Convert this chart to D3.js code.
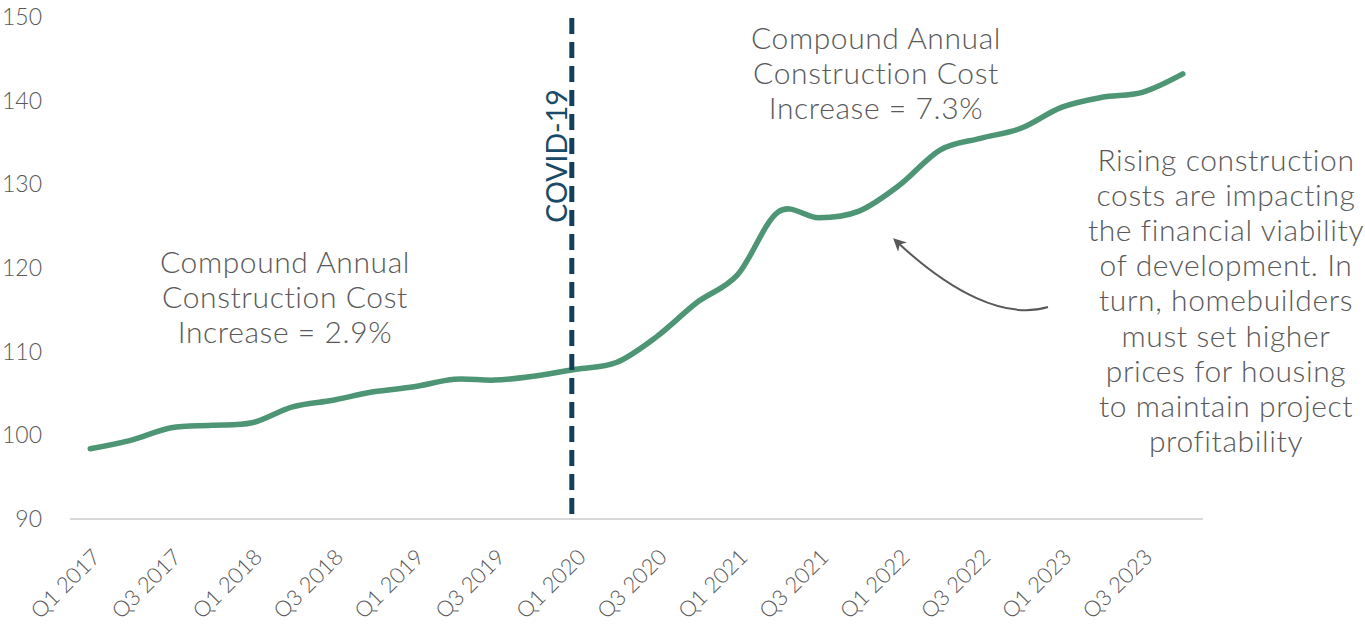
<!DOCTYPE html>
<html>
<head>
<meta charset="utf-8">
<script src="https://cdn.jsdelivr.net/npm/d3@7"></script>
<style>
  html, body { margin: 0; padding: 0; background: #ffffff; }
  svg { display: block; }
  text { font-family: Lato, "Open Sans", sans-serif; }
</style>
</head>
<body>
<script>
const quarters = [
  "Q1 2017","Q2 2017","Q3 2017","Q4 2017",
  "Q1 2018","Q2 2018","Q3 2018","Q4 2018",
  "Q1 2019","Q2 2019","Q3 2019","Q4 2019",
  "Q1 2020","Q2 2020","Q3 2020","Q4 2020",
  "Q1 2021","Q2 2021","Q3 2021","Q4 2021",
  "Q1 2022","Q2 2022","Q3 2022","Q4 2022",
  "Q1 2023","Q2 2023","Q3 2023","Q4 2023"
];
const costIndex = [
  98.4, 99.4, 100.9, 101.2,
  101.5, 103.4, 104.2, 105.2,
  105.8, 106.7, 106.6, 107.1,
  107.9, 108.7, 111.8, 115.9,
  119.2, 126.7, 126.0, 126.8,
  129.9, 134.1, 135.5, 136.7,
  139.2, 140.4, 141.0, 143.2
];
const yTicks = [90, 100, 110, 120, 130, 140, 150];
const xTickLabels = quarters.filter((q, i) => i % 2 === 0);
const covidQuarter = "Q1 2020";
const preCovidNote = ["Compound Annual", "Construction Cost", "Increase = 2.9%"];
const postCovidNote = ["Compound Annual", "Construction Cost", "Increase = 7.3%"];
const sideNote = [
  "Rising construction", "costs are impacting", "the financial viability",
  "of development. In", "turn, homebuilders", "must set higher",
  "prices for housing", "to maintain project", "profitability"
];

const W = 1365, H = 624;
const svg = d3.select("body").append("svg").attr("width", W).attr("height", H);

const x = d3.scalePoint().domain(quarters).range([70, 1203]).padding(0.5);
const y = d3.scaleLinear().domain([90, 150]).range([519, 17]);

const textGrey = "#595959";

// baseline
svg.append("line")
  .attr("x1", 70).attr("x2", 1203)
  .attr("y1", y(90)).attr("y2", y(90))
  .attr("stroke", "#d9d9d9").attr("stroke-width", 2);

// y tick labels
svg.append("g").selectAll("text").data(yTicks).join("text")
  .attr("x", 42).attr("y", d => y(d)).attr("dy", "0.35em")
  .attr("text-anchor", "end")
  .attr("font-size", 23).attr("font-weight", 300)
  .attr("fill", textGrey)
  .text(d => d);

// x tick labels
svg.append("g").selectAll("text").data(xTickLabels).join("text")
  .attr("transform", d => `translate(${x(d) + 6},${553}) rotate(-45)`)
  .attr("dy", "0.35em")
  .attr("text-anchor", "end")
  .attr("font-size", 22).attr("font-weight", 300)
  .attr("fill", textGrey)
  .text(d => d);

// line
const line = d3.line()
  .x((d, i) => x(quarters[i]))
  .y(d => y(d))
  .curve(d3.curveCatmullRom.alpha(0));
svg.append("path")
  .datum(costIndex)
  .attr("d", line)
  .attr("fill", "none")
  .attr("stroke", "#4e9575")
  .attr("stroke-width", 5.5)
  .attr("stroke-linecap", "round")
  .attr("stroke-linejoin", "round");

// COVID line
const cx = x(covidQuarter) - 4;
svg.append("line")
  .attr("x1", cx).attr("x2", cx)
  .attr("y1", 18).attr("y2", y(90))
  .attr("stroke", "#12405c").attr("stroke-width", 5)
  .attr("stroke-dasharray", "16,8");

svg.append("text")
  .attr("transform", `translate(${cx - 5},${156}) rotate(-90)`)
  .attr("text-anchor", "middle")
  .attr("font-size", 28.5).attr("font-weight", 400)
  .attr("fill", "#1a4a66")
  .text("COVID-19");

// notes
function block(lines, cxp, y0, step, size) {
  svg.append("g").selectAll("text").data(lines).join("text")
    .attr("x", cxp).attr("y", (d, i) => y0 + i * step)
    .attr("dy", "0.35em")
    .attr("text-anchor", "middle")
    .attr("font-size", size).attr("font-weight", 300)
    .attr("letter-spacing", 0.6)
    .attr("fill", textGrey)
    .text(d => d);
}
block(preCovidNote, 285, 262, 35, 30);
block(postCovidNote, 876, 38, 35, 30);
block(sideNote, 1226, 160, 35.2, 30);

// arrow
svg.append("defs").append("marker")
  .attr("id", "ah").attr("viewBox", "0 0 10 10")
  .attr("refX", 8).attr("refY", 5)
  .attr("markerWidth", 6.5).attr("markerHeight", 6.5)
  .attr("orient", "auto")
  .append("path").attr("d", "M0,0 L10,5 L0,10 L3,5 Z").attr("fill", textGrey);

svg.append("path")
  .attr("d", "M1048,307 C1005,320 950,292 895,240")
  .attr("fill", "none")
  .attr("stroke", textGrey).attr("stroke-width", 2)
  .attr("marker-end", "url(#ah)");
</script>
</body>
</html>
